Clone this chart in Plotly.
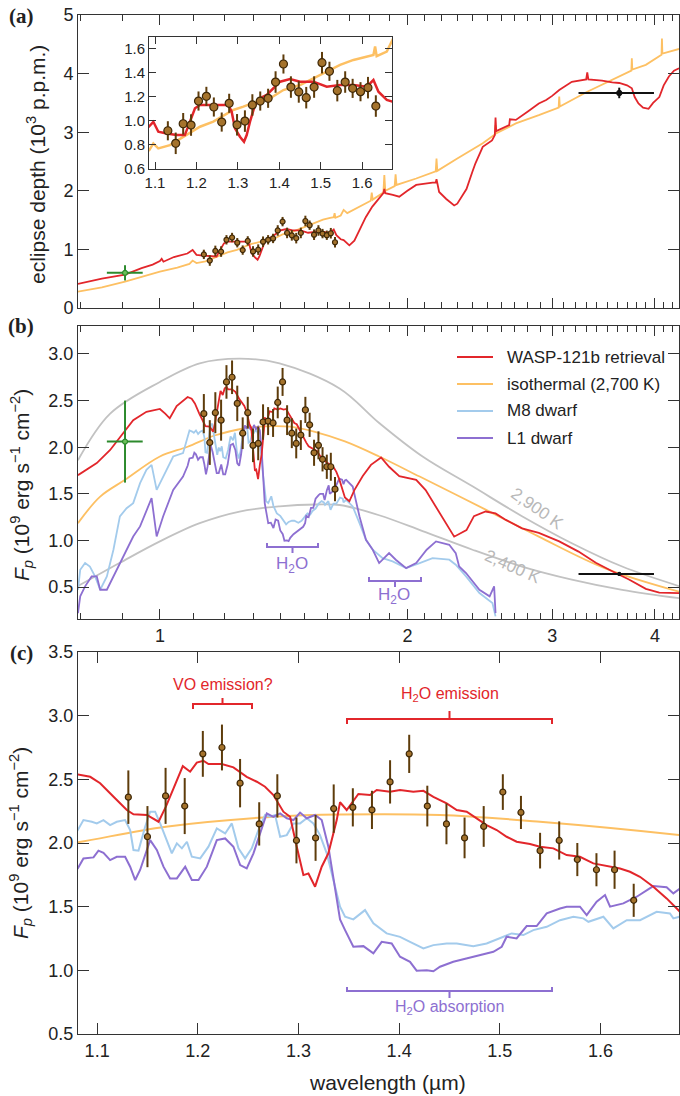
import plotly.graph_objects as go

# ---------------- data ----------------
# HST/WFC3 spectroscopic points
wfc3_wl = [1.131, 1.150, 1.168, 1.187, 1.205, 1.224, 1.242, 1.261, 1.279, 1.298, 1.317, 1.335,
           1.354, 1.373, 1.391, 1.410, 1.428, 1.447, 1.465, 1.484, 1.503, 1.521, 1.540, 1.559,
           1.577, 1.596, 1.614, 1.633]
wfc3_fp = [2.36, 2.05, 2.37, 2.29, 2.70, 2.75, 2.47, 2.15, 2.37, 2.02, 2.04, 2.27,
           2.28, 2.26, 2.48, 2.70, 2.29, 2.15, 2.04, 2.13, 2.40, 2.24, 1.94, 2.02,
           1.87, 1.79, 1.79, 1.55]
wfc3_fp_err = [0.21, 0.24, 0.22, 0.22, 0.18, 0.18, 0.19, 0.17, 0.17, 0.18, 0.18, 0.19,
               0.15, 0.15, 0.17, 0.15, 0.16, 0.16, 0.16, 0.16, 0.14, 0.13, 0.14, 0.15,
               0.13, 0.13, 0.15, 0.13]
wfc3_depth = [0.915, 0.81, 0.974, 0.963, 1.164, 1.203, 1.114, 0.988, 1.145, 0.965, 0.996, 1.131,
              1.164, 1.187, 1.323, 1.474, 1.281, 1.24, 1.192, 1.281, 1.485, 1.413, 1.251, 1.323,
              1.27, 1.242, 1.276, 1.122]
wfc3_depth_err = [0.08, 0.09, 0.09, 0.09, 0.08, 0.08, 0.08, 0.08, 0.08, 0.09, 0.09, 0.09,
                  0.08, 0.08, 0.09, 0.08, 0.09, 0.09, 0.09, 0.09, 0.09, 0.08, 0.09, 0.09,
                  0.08, 0.08, 0.09, 0.09]

# photometric points: ground-based z' (green) and long-wavelength band (black)
zband_wl = [0.907]
zband_wl_lo = [0.045]
zband_wl_hi = [0.046]
zband_depth = [0.60]
zband_depth_err = [0.13]
zband_fp = [2.06]
zband_fp_err = [0.44]

irac_wl = [3.62]
irac_wl_lo = [0.39]
irac_wl_hi = [0.37]
irac_depth = [3.67]
irac_depth_err = [0.09]
irac_fp = [0.64]
irac_fp_err = [0.02]

# eclipse depth models (10^3 ppm)
ret_depth_wl = [0.795, 0.85, 0.907, 0.95, 0.98, 1.0, 1.005, 1.01, 1.04, 1.06, 1.08, 1.096, 1.108,
                1.128, 1.152, 1.172, 1.184, 1.1965, 1.2085, 1.2327, 1.2568, 1.277, 1.285, 1.293,
                1.305, 1.3148, 1.3213, 1.3293, 1.3414, 1.3535, 1.3696, 1.3857, 1.4018, 1.426,
                1.4501, 1.4823, 1.5145, 1.5467, 1.5789, 1.6111, 1.6272, 1.6393, 1.6594, 1.6731,
                1.70, 1.724, 1.749, 1.78, 1.813, 1.85, 1.87, 1.875, 1.88, 1.92, 1.955, 2.0, 2.05,
                2.146, 2.165, 2.17, 2.186, 2.23, 2.28, 2.30, 2.36, 2.40, 2.42, 2.47, 2.535, 2.555,
                2.56, 2.565, 2.62, 2.66, 2.665, 2.71, 2.80, 2.89, 2.95, 3.0, 3.06, 3.17, 3.30, 3.31,
                3.32, 3.45, 3.55, 3.62, 3.70, 3.75, 3.78, 3.82, 3.87, 3.93, 3.98, 4.05, 4.10, 4.16,
                4.22, 4.28]
ret_depth = [0.41, 0.50, 0.57, 0.68, 0.74, 0.80, 0.84, 0.79, 0.87, 0.90, 0.93, 0.99, 0.907,
             0.893, 0.879, 0.879, 0.991, 1.103, 1.131, 1.131, 1.131, 1.131, 1.075, 0.935,
             0.865, 0.823, 0.879, 0.991, 1.131, 1.187, 1.215, 1.27, 1.326, 1.348,
             1.326, 1.326, 1.284, 1.298, 1.298, 1.284, 1.34, 1.242, 1.173, 1.159,
             1.07, 1.15, 1.33, 1.55, 1.73, 1.88, 1.96, 2.03, 1.96, 1.93, 1.90, 2.00, 2.10,
             2.14, 2.14, 2.20, 1.98, 1.86, 1.75, 1.78, 2.03, 2.33, 2.47, 2.75, 2.86, 2.95,
             3.25, 3.02, 3.08, 3.12, 3.22, 3.21, 3.35, 3.49, 3.55, 3.62, 3.72, 3.86, 3.90, 4.02,
             3.90, 3.88, 3.85, 3.84, 3.80, 3.75, 3.60, 3.49, 3.42, 3.40, 3.50, 3.60, 3.80, 3.95,
             4.05, 4.09]

iso_depth_wl = [0.795, 0.85, 0.907, 0.95, 1.0, 1.05, 1.0863, 1.0959, 1.1079, 1.1361, 1.1683,
                1.2085, 1.2407, 1.273, 1.289, 1.3132, 1.3454, 1.3776, 1.4098, 1.4501, 1.4823,
                1.5145, 1.5467, 1.5789, 1.6111, 1.6272, 1.6312, 1.635, 1.6594, 1.6731, 1.69,
                1.75, 1.805, 1.81, 1.815, 1.87, 1.875, 1.88, 1.93, 1.935, 1.94, 2.05, 2.165, 2.17,
                2.175, 2.30, 2.47, 2.555, 2.56, 2.565, 2.71, 2.89, 3.055, 3.06, 3.065, 3.31, 3.62,
                3.745, 3.75, 3.755, 3.9, 4.075, 4.08, 4.085, 4.28]
iso_depth = [0.28, 0.35, 0.45, 0.53, 0.62, 0.69, 0.753, 0.809, 0.767, 0.795, 0.865,
             0.949, 0.991, 1.061, 1.089, 1.117, 1.159, 1.187, 1.256, 1.298, 1.354,
             1.41, 1.466, 1.508, 1.536, 1.55, 1.62, 1.54, 1.578, 1.675, 1.62,
             1.73, 1.83, 1.97, 1.85, 1.97, 2.27, 2.0, 2.08, 2.28, 2.10, 2.21, 2.33, 2.55,
             2.34, 2.55, 2.81, 2.96, 3.12, 2.98, 3.15, 3.29, 3.42, 3.61, 3.44, 3.69, 3.95,
             4.05, 4.26, 4.07, 4.15, 4.32, 4.60, 4.34, 4.42]

# planet flux models (10^9 erg s^-1 cm^-2)
ret_fp_wl = [0.795, 0.838, 0.87, 0.894, 0.928, 0.963, 1.0, 1.015, 1.028, 1.048,
             1.0808, 1.0931, 1.103, 1.1163, 1.1295, 1.1361, 1.1494, 1.161, 1.1683, 1.1759,
             1.1851, 1.1924, 1.199, 1.2056, 1.2106, 1.2238, 1.2354, 1.2486, 1.2586, 1.2668,
             1.2751, 1.285, 1.2917, 1.2983, 1.3049, 1.3099, 1.3165, 1.3231, 1.3297, 1.338,
             1.3413, 1.3479, 1.3595, 1.3711, 1.3777, 1.3909, 1.4009, 1.4141, 1.4241, 1.434,
             1.4472, 1.4572, 1.4671, 1.477, 1.4869, 1.4969, 1.5068, 1.5167, 1.53, 1.5399,
             1.5532, 1.5664, 1.5796, 1.5929, 1.6061, 1.6194, 1.6293, 1.6392, 1.6525, 1.6657,
             1.679, 1.70, 1.724, 1.765, 1.806, 1.858, 1.90, 1.955, 2.05, 2.105, 2.167, 2.23,
             2.28, 2.36, 2.41, 2.49, 2.56, 2.635, 2.757, 2.89, 3.06, 3.23, 3.39, 3.55, 3.72,
             3.90, 4.05, 4.28]
ret_fp = [1.70, 1.83, 1.97, 2.11, 2.29, 2.38, 2.41, 2.36, 2.31, 2.44,
          2.539, 2.52, 2.469, 2.363, 2.259, 2.225, 2.22, 2.167, 2.285, 2.429,
          2.604, 2.56, 2.631, 2.646, 2.62, 2.62, 2.594, 2.52, 2.481, 2.442,
          2.377, 2.246, 2.206, 1.971, 1.748, 1.76, 1.657, 1.814, 1.919, 2.18,
          2.32, 2.259, 2.385, 2.377, 2.416, 2.403, 2.416, 2.403, 2.41, 2.363,
          2.311, 2.259, 2.246, 2.194, 2.141, 2.102, 2.049, 2.01, 1.992, 1.971,
          1.958, 1.905, 1.892, 1.84, 1.819, 1.80, 1.774, 1.735, 1.657, 1.565,
          1.46, 1.42, 1.54, 1.69, 1.81, 1.89, 1.79, 1.69, 1.65, 1.54, 1.36, 1.19,
          1.04, 1.11, 1.26, 1.31, 1.29, 1.22, 1.13, 1.08, 0.99, 0.88, 0.76, 0.67, 0.58,
          0.48, 0.44, 0.435]

iso_fp_wl = [0.795, 0.846, 0.907, 1.0, 1.0808, 1.1683, 1.2751, 1.3413, 1.4406, 1.5399, 1.679,
             1.848, 2.07, 2.49, 2.89, 3.48, 4.28]
iso_fp = [1.185, 1.47, 1.65, 1.90, 2.005, 2.128, 2.206, 2.224, 2.22, 2.167, 2.062,
          1.90, 1.685, 1.33, 1.04, 0.70, 0.45]

bb2900_wl = [0.795, 0.87, 1.0, 1.118, 1.25, 1.398, 1.654, 1.848, 2.087, 2.4, 2.757, 3.17, 3.65, 4.28]
bb2900_fp = [1.86, 2.36, 2.70, 2.90, 2.95, 2.90, 2.63, 2.26, 1.90, 1.58, 1.26, 0.97, 0.72, 0.51]
bb2400_wl = [0.795, 0.894, 1.0, 1.118, 1.25, 1.398, 1.55, 1.654, 1.848, 2.087, 2.4, 2.757, 3.17, 3.65, 4.28]
bb2400_fp = [0.51, 0.76, 0.99, 1.185, 1.31, 1.365, 1.385, 1.38, 1.27, 1.10, 0.90, 0.72, 0.58, 0.47, 0.38]

m8_wl = [0.795, 0.80, 0.811, 0.822, 0.834, 0.846, 0.862, 0.878, 0.894, 0.911, 0.928, 0.946,
         0.963, 0.977, 0.991, 1.009, 1.038, 1.067,
         1.0808, 1.0864, 1.0947, 1.0997, 1.1063, 1.1129, 1.1195, 1.1278, 1.1328, 1.1361,
         1.1411, 1.1477, 1.1527, 1.1576, 1.1626, 1.1693, 1.1742, 1.1792, 1.1842, 1.1892,
         1.1941, 1.2024, 1.2106, 1.2189, 1.2272, 1.2338, 1.2404, 1.247, 1.2536, 1.2602,
         1.2668, 1.2718, 1.2768, 1.2818, 1.2884, 1.295, 1.3016, 1.3082, 1.3148, 1.3214,
         1.3281, 1.3347, 1.3413, 1.3463, 1.3545, 1.3661, 1.3744, 1.3876, 1.4009, 1.4108,
         1.4241, 1.434, 1.4472, 1.4572, 1.4737, 1.4869, 1.5002, 1.5118, 1.5234, 1.5333,
         1.5466, 1.5598, 1.5731, 1.583, 1.588, 1.6029, 1.6128, 1.6261, 1.6393, 1.6558,
         1.669, 1.6724, 1.685, 1.716, 1.749, 1.781, 1.815, 1.866, 1.919, 1.993, 2.07,
         2.146, 2.249, 2.29, 2.357, 2.447, 2.538, 2.56]
m8_fp = [0.47, 0.685, 0.757, 0.72, 0.614, 0.471, 0.614, 0.90, 1.257, 1.346, 1.40, 1.614,
         1.757, 1.81, 1.542, 1.685, 1.90, 1.936,
         2.102, 2.18, 2.167, 2.154, 2.18, 2.141, 2.167, 2.18, 2.102, 1.945,
         1.94, 2.128, 2.246, 2.246, 2.154, 2.023, 1.919, 1.997, 1.958, 2.01,
         1.892, 1.879, 1.971, 2.115, 2.075, 2.154, 1.958, 1.879, 1.958, 2.102,
         2.22, 2.206, 2.22, 2.049, 2.062, 2.154, 2.154, 2.194, 2.154, 2.062,
         1.919, 1.709, 1.50, 1.421, 1.40, 1.473, 1.369, 1.29, 1.263, 1.224,
         1.172, 1.198, 1.211, 1.211, 1.19, 1.211, 1.251, 1.29, 1.277, 1.316,
         1.342, 1.394, 1.421, 1.408, 1.381, 1.421, 1.329, 1.394, 1.394, 1.46,
         1.447, 1.408, 1.435, 1.364, 1.185, 1.006, 0.90, 0.81, 0.775, 0.703, 0.757,
         0.81, 0.793, 0.739, 0.614, 0.435, 0.328, 0.185]

l1_wl = [0.795, 0.80, 0.811, 0.826, 0.838, 0.846, 0.862, 0.878, 0.894, 0.911, 0.928, 0.946,
         0.963, 0.977, 0.991, 1.009, 1.038, 1.067,
         1.0808, 1.0864, 1.0964, 1.1013, 1.1063, 1.1129, 1.1195, 1.1278, 1.1328, 1.1378,
         1.1427, 1.1527, 1.1593, 1.1659, 1.1725, 1.1792, 1.1875, 1.1941, 1.2007, 1.209,
         1.2189, 1.2272, 1.2354, 1.2421, 1.2486, 1.2553, 1.2619, 1.2685, 1.2751, 1.2818,
         1.2884, 1.295, 1.3016, 1.3082, 1.3165, 1.3231, 1.3297, 1.3347, 1.3413, 1.3463,
         1.3545, 1.3645, 1.3744, 1.3827, 1.3926, 1.4009, 1.4108, 1.4174, 1.4274, 1.434,
         1.4406, 1.4538, 1.4671, 1.4803, 1.4936, 1.5019, 1.5068, 1.5167, 1.5267, 1.5366,
         1.5466, 1.5598, 1.5664, 1.5796, 1.5863, 1.5962, 1.6045, 1.6095, 1.6227, 1.636,
         1.6525, 1.6657, 1.6724, 1.679, 1.685, 1.716, 1.749, 1.781, 1.815, 1.848, 1.90,
         1.936, 1.993, 2.05, 2.111, 2.167, 2.249, 2.29, 2.312, 2.357, 2.447, 2.518, 2.55, 2.56]
l1_fp = [0.22, 0.40, 0.507, 0.614, 0.614, 0.471, 0.471, 0.614, 0.757, 0.90, 1.042, 1.15,
         1.328, 1.453, 1.042, 1.257, 1.542, 1.685,
         1.801, 1.879, 1.887, 1.94, 1.923, 1.866, 1.892, 1.892, 1.814, 1.709,
         1.788, 2.023, 1.945, 1.814, 1.722, 1.722, 1.814, 1.709, 1.709, 1.814,
         2.023, 2.036, 1.971, 1.827, 1.801, 1.919, 2.076, 2.233, 2.206, 2.233,
         2.194, 2.18, 2.239, 2.194, 2.22, 2.18, 1.971, 1.709, 1.40, 1.316,
         1.185, 1.19, 1.133, 1.224, 1.211, 1.107, 1.067, 0.997, 1.0, 0.993,
         1.028, 1.067, 1.093, 1.12, 1.146, 1.185, 1.264, 1.25, 1.348, 1.348,
         1.447, 1.486, 1.50, 1.50, 1.434, 1.539, 1.591, 1.50, 1.526, 1.578,
         1.662, 1.652, 1.604, 1.643, 1.65, 1.578, 1.256, 1.006, 0.90, 0.757, 0.864,
         0.793, 0.703, 0.757, 0.90, 0.989, 0.953, 0.864, 0.721, 0.65, 0.471, 0.40, 0.507, 0.22]

legend_labels = ["WASP-121b retrieval", "isothermal (2,700 K)", "M8 dwarf", "L1 dwarf"]

# ---------------- styles ----------------
RED = "#e2262b"
YEL = "#fdc063"
BLUE = "#a3cbec"
PURP = "#8d6fd1"
GRAY = "#c2c2c2"
PT_FILL = "#a5732c"
PT_EDGE = "#3e2808"
PT_ERR = "#5e3c0b"
GREEN = "#2c8a2c"
AX = "#333333"
TXT = "#222222"
FONT = "Liberation Sans, Arial, sans-serif"

W, H = 680, 1096
ML, MR, MT, MB = 78, 1, 15, 62
PW = W - ML - MR
PH = H - MT - MB


def px(x):
    return (x - ML) / PW


def py(y):
    return (H - MB - y) / PH


fig = go.Figure()


def line(x, y, color, xa, ya, width=1.8, shape="linear"):
    fig.add_trace(go.Scatter(x=x, y=y, mode="lines", xaxis=xa, yaxis=ya,
                             line=dict(color=color, width=width, shape=shape),
                             showlegend=False, hoverinfo="skip"))


def points(x, y, err, xa, ya, size):
    fig.add_trace(go.Scatter(x=x, y=y, mode="markers", xaxis=xa, yaxis=ya,
                             marker=dict(size=size, color=PT_FILL, line=dict(color=PT_EDGE, width=1.2)),
                             error_y=dict(type="data", array=err, thickness=2, width=0, color=PT_ERR),
                             showlegend=False, hoverinfo="skip"))


def phot(x, xlo, xhi, y, yerr, color, fill, xa, ya, size):
    fig.add_trace(go.Scatter(x=x, y=y, mode="markers", xaxis=xa, yaxis=ya,
                             marker=dict(size=size, color=fill, line=dict(color=color, width=1.2)),
                             error_x=dict(type="data", array=xhi, arrayminus=xlo, thickness=2, width=0, color=color),
                             error_y=dict(type="data", array=yerr, thickness=2, width=0, color=color),
                             showlegend=False, hoverinfo="skip"))


# ---- panel (a) main ----
line(iso_depth_wl, iso_depth, YEL, "x", "y", 1.8)
line(ret_depth_wl, ret_depth, RED, "x", "y", 1.8)
points(wfc3_wl, wfc3_depth, wfc3_depth_err, "x", "y", 5)
phot(zband_wl, zband_wl_lo, zband_wl_hi, zband_depth, zband_depth_err, GREEN, "#6cbf5a", "x", "y", 5)
phot(irac_wl, irac_wl_lo, irac_wl_hi, irac_depth, irac_depth_err, "#111111", "#111111", "x", "y", 5)

# ---- panel (a) inset ----
line(iso_depth_wl, iso_depth, YEL, "x2", "y2", 2.5)
line(ret_depth_wl, ret_depth, RED, "x2", "y2", 2.5)
points(wfc3_wl, wfc3_depth, wfc3_depth_err, "x2", "y2", 8)

# ---- panel (b) ----
line(bb2900_wl, bb2900_fp, GRAY, "x3", "y3", 1.8, "spline")
line(bb2400_wl, bb2400_fp, GRAY, "x3", "y3", 1.8, "spline")
line(iso_fp_wl, iso_fp, YEL, "x3", "y3", 1.8, "spline")
line(m8_wl, m8_fp, BLUE, "x3", "y3", 1.8)
line(l1_wl, l1_fp, PURP, "x3", "y3", 1.8)
line(ret_fp_wl, ret_fp, RED, "x3", "y3", 1.8)
points(wfc3_wl, wfc3_fp, wfc3_fp_err, "x3", "y3", 6)
phot(zband_wl, zband_wl_lo, zband_wl_hi, zband_fp, zband_fp_err, GREEN, "#6cbf5a", "x3", "y3", 5)
phot(irac_wl, irac_wl_lo, irac_wl_hi, irac_fp, irac_fp_err, "#111111", "#111111", "x3", "y3", 3)

# ---- panel (c) ----
line(iso_fp_wl, iso_fp, YEL, "x4", "y4", 2, "spline")
line(m8_wl, m8_fp, BLUE, "x4", "y4", 2)
line(l1_wl, l1_fp, PURP, "x4", "y4", 2)
line(ret_fp_wl, ret_fp, RED, "x4", "y4", 2)
points(wfc3_wl, wfc3_fp, wfc3_fp_err, "x4", "y4", 6)

# ---------------- axes ----------------
base = dict(showline=True, linecolor=AX, linewidth=1, mirror="allticks", ticks="inside",
            tickcolor=AX, tickwidth=1, showgrid=False, zeroline=False,
            tickfont=dict(family=FONT, size=18, color=TXT))

minor_vals = [round(v / 10, 1) for v in range(8, 43) if v % 10 != 0]
logx = dict(base, type="log", range=[-0.0996, 0.6314], tickvals=[1, 2, 3, 4], ticktext=["1", "2", "3", "4"],
            ticklen=10, minor=dict(tickvals=minor_vals, ticks="inside", ticklen=6, tickcolor=AX, tickwidth=1))

inset_font = dict(family=FONT, size=15, color=TXT)

fig.update_layout(
    width=W, height=H, margin=dict(l=ML, r=MR, t=MT, b=MB),
    paper_bgcolor="white", plot_bgcolor="white", showlegend=False,
    font=dict(family=FONT, color=TXT),
    xaxis=dict(logx, domain=[0, 1], anchor="y", showticklabels=False),
    yaxis=dict(base, domain=[py(308), py(15)], anchor="x", range=[0, 5], tickvals=[0, 1, 2, 3, 4, 5], ticklen=11),
    xaxis2=dict(base, domain=[px(149), px(392)], anchor="y2", range=[1.0855, 1.672],
                tickvals=[1.1, 1.2, 1.3, 1.4, 1.5, 1.6], ticktext=["1.1", "1.2", "1.3", "1.4", "1.5", "1.6"],
                ticklen=7, tickfont=inset_font),
    yaxis2=dict(base, domain=[py(169), py(37)], anchor="x2", range=[0.595, 1.70],
                tickvals=[0.6, 0.8, 1.0, 1.2, 1.4, 1.6], ticktext=["0.6", "0.8", "1.0", "1.2", "1.4", "1.6"],
                ticklen=7, tickfont=inset_font),
    xaxis3=dict(logx, domain=[0, 1], anchor="y3"),
    yaxis3=dict(base, domain=[py(619), py(326)], anchor="x3", range=[0.157, 3.30],
                tickvals=[0.5, 1.0, 1.5, 2.0, 2.5, 3.0], ticktext=["0.5", "1.0", "1.5", "2.0", "2.5", "3.0"], ticklen=11),
    xaxis4=dict(base, domain=[0, 1], anchor="y4", range=[1.081, 1.678],
                tickvals=[1.1, 1.2, 1.3, 1.4, 1.5, 1.6], ticktext=["1.1", "1.2", "1.3", "1.4", "1.5", "1.6"], ticklen=11),
    yaxis4=dict(base, domain=[0, py(652)], anchor="x4", range=[0.5, 3.5],
                tickvals=[0.5, 1.0, 1.5, 2.0, 2.5, 3.0, 3.5],
                ticktext=["0.5", "1.0", "1.5", "2.0", "2.5", "3.0", "3.5"], ticklen=11),
)

ann = []
shapes = []


def text(t, x, y, size, color=TXT, angle=0, xanchor="center", family=FONT):
    ann.append(dict(text=t, x=px(x), y=py(y), xref="paper", yref="paper", showarrow=False,
                    textangle=angle, xanchor=xanchor, yanchor="middle",
                    font=dict(family=family, size=size, color=color)))


# panel labels
for lab, yy in [("(a)", 16), ("(b)", 326), ("(c)", 653)]:
    text("<b>" + lab + "</b>", 21, yy, 21, family="Liberation Serif, DejaVu Serif, serif")

# axis titles
FP_TITLE = "<i>F</i><sub><i>p</i></sub> (10<sup>9</sup> erg s<sup>\u22121</sup> cm<sup>\u22122</sup>)"
text("eclipse depth (10<sup>3</sup> p.p.m.)", 36, 165, 21, angle=-90)
text(FP_TITLE, 21, 485, 21, angle=-90)
text(FP_TITLE, 20, 843, 21, angle=-90)
text("wavelength (\u00b5m)", 387, 1082, 21)

# legend (panel b)
leg_colors = [RED, YEL, BLUE, PURP]
for i, (lab, col) in enumerate(zip(legend_labels, leg_colors)):
    yy = 357 + 27 * i
    shapes.append(dict(type="line", xref="paper", yref="paper", x0=px(457), x1=px(493), y0=py(yy), y1=py(yy),
                       line=dict(color=col, width=2)))
    text(lab, 505, yy, 17, xanchor="left")

# blackbody labels
text("2,900 K", 537, 508, 17, color="#b8b8b8", angle=35)
text("2,400 K", 512, 567, 17, color="#b8b8b8", angle=24)


def bracket_px(x0, x1, y, end_dy, mid_dy, color):
    xm = (x0 + x1) / 2
    path = (f"M {px(x0)},{py(y + end_dy)} L {px(x0)},{py(y)} L {px(x1)},{py(y)} L {px(x1)},{py(y + end_dy)} "
            f"M {px(xm)},{py(y)} L {px(xm)},{py(y + mid_dy)}")
    shapes.append(dict(type="path", xref="paper", yref="paper", path=path, line=dict(color=color, width=2)))


# H2O brackets in (b)
bracket_px(267, 318, 547, -4, 6, PURP)
text("H<sub>2</sub>O", 292, 565, 17, color=PURP)
bracket_px(369, 421, 581, -4, 6, PURP)
text("H<sub>2</sub>O", 394, 596, 17, color=PURP)

# brackets in (c)
bracket_px(193, 252, 704, 5, -6, RED)
text("VO emission?", 223, 684, 16, color=RED)
bracket_px(347, 552, 719, 5, -8, RED)
text("H<sub>2</sub>O emission", 450, 694, 16, color=RED)
bracket_px(347, 552, 991, -4, 7, PURP)
text("H<sub>2</sub>O absorption", 449, 1007, 16, color=PURP)

fig.update_layout(annotations=ann, shapes=shapes)

fig.write_html("out.html")
